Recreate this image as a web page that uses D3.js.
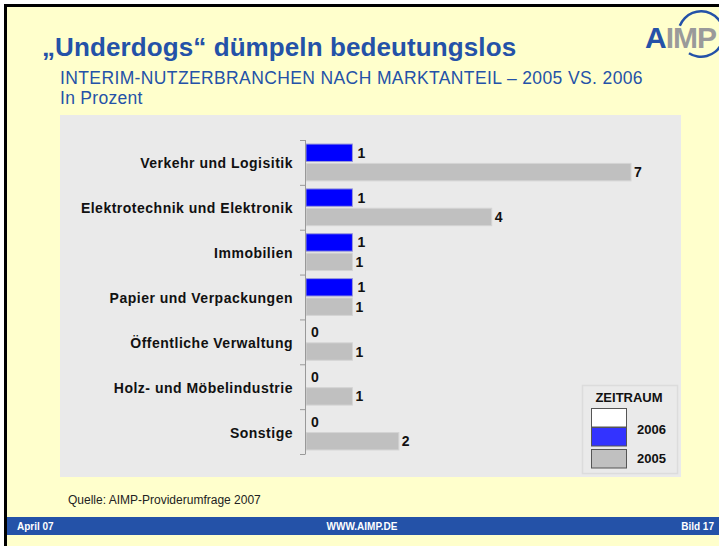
<!DOCTYPE html>
<html>
<head>
<meta charset="utf-8">
<script src="https://cdn.jsdelivr.net/npm/d3@7"></script>
<style>
  body { margin: 0; background: #fff; }
  svg { display: block; font-family: "Liberation Sans", Arial, sans-serif; }
</style>
</head>
<body>
<svg id="chart" width="719" height="546"></svg>
<script>
// data
let categories = ['Verkehr und Logisitik', 'Elektrotechnik und Elektronik', 'Immobilien',
    'Papier und Verpackungen', 'Öffentliche Verwaltung', 'Holz- und Möbelindustrie', 'Sonstige']
let values2006 = [1, 1, 1, 1, 0, 0, 0]
let values2005 = [7, 4, 1, 1, 1, 1, 2]
let seriesNames = ['2006', '2005']
let legendItems = [
    { label: '', color: '#ffffff' },
    { label: '2006', color: '#3333ff' },
    { label: '2005', color: '#c0c0c0' }
]

let width = 719
let height = 546
let blue = '#2452a8'

let svg = d3.select('#chart')

// slide background + frame
svg.append('rect').attr('width', width).attr('height', height).attr('fill', '#fff')
svg.append('rect')
    .attr('x', 5).attr('y', 5).attr('width', width).attr('height', height)
    .attr('fill', '#ffffcc')
svg.append('path')
    .attr('d', `M5.5,${height} V5.5 H${width}`)
    .attr('fill', 'none').attr('stroke', '#000').attr('stroke-width', 3)

// titles
svg.append('text')
    .attr('x', 42).attr('y', 56)
    .attr('fill', blue).attr('font-size', 26).attr('font-weight', 'bold').attr('letter-spacing', 0.1)
    .text('„Underdogs“ dümpeln bedeutungslos')

svg.append('text')
    .attr('x', 60).attr('y', 84)
    .attr('fill', blue).attr('font-size', 17.5).attr('letter-spacing', 0.38)
    .text('INTERIM-NUTZERBRANCHEN NACH MARKTANTEIL – 2005 VS. 2006')

svg.append('text')
    .attr('x', 60).attr('y', 104)
    .attr('fill', blue).attr('font-size', 17.5).attr('letter-spacing', 0.3)
    .text('In Prozent')

// logo
let logo = svg.append('g')
logo.append('path')
    .attr('transform', 'translate(701,34)')
    .attr('d', d3.arc().innerRadius(21.5).outerRadius(24).startAngle(-1.2).endAngle(3.7)())
    .attr('fill', blue)
let logoText = logo.append('text')
    .attr('x', 645).attr('y', 48)
    .attr('font-size', 30).attr('font-weight', 'bold').attr('letter-spacing', -1)
logoText.append('tspan').attr('fill', blue).text('A')
logoText.append('tspan').attr('fill', '#9a9a9a').text('IMP')

// plot area
svg.append('rect')
    .attr('x', 60).attr('y', 115).attr('width', 621).attr('height', 362)
    .attr('fill', '#eaeaea')

let margin = { top: 140, bottom: 454, left: 306 }

let y0 = d3.scaleBand()
    .domain(categories)
    .range([margin.top, margin.bottom])
    .paddingInner(0.18)
    .paddingOuter(0.09)

let y1 = d3.scaleBand()
    .domain(seriesNames)
    .range([0, y0.bandwidth()])
    .paddingInner(0.1)

let xScale = d3.scaleLinear()
    .domain([0, 7])
    .range([margin.left, 631])

let colors = { '2006': '#0000ff', '2005': '#c0c0c0' }
let strokes = { '2006': '#9a9ad8', '2005': '#d4d4d4' }

let rows = categories.map((c, i) => ({ name: c, '2006': values2006[i], '2005': values2005[i] }))

let groups = svg.append('g')
    .selectAll('g')
    .data(rows)
    .join('g')
    .attr('transform', d => `translate(0,${y0(d.name)})`)

groups.selectAll('rect')
    .data(d => seriesNames.map(s => ({ key: s, value: d[s] })))
    .join('rect')
    .attr('x', xScale(0))
    .attr('y', d => y1(d.key))
    .attr('width', d => xScale(d.value) - xScale(0))
    .attr('height', y1.bandwidth())
    .attr('fill', d => colors[d.key])
    .attr('stroke', d => d.value > 0 ? strokes[d.key] : 'none')
    .attr('stroke-width', 1)

groups.selectAll('text')
    .data(d => seriesNames.map(s => ({ key: s, value: d[s] })))
    .join('text')
    .attr('x', d => xScale(d.value) + (d.key == '2006' ? 5 : 3))
    .attr('y', d => y1(d.key) + y1.bandwidth() / 2 + 5)
    .attr('font-size', 14).attr('font-weight', 'bold').attr('fill', '#111')
    .text(d => d.value)

// category axis, ticks between categories
let step = y0.step()
let axis = svg.append('g').attr('stroke', '#999').attr('stroke-width', 1)
axis.append('line')
    .attr('x1', margin.left - 0.5).attr('x2', margin.left - 0.5)
    .attr('y1', margin.top).attr('y2', margin.bottom)
axis.selectAll('.tick')
    .data(d3.range(categories.length + 1))
    .join('line')
    .attr('x1', margin.left - 6).attr('x2', margin.left - 0.5)
    .attr('y1', i => margin.top + i * step + 0.5)
    .attr('y2', i => margin.top + i * step + 0.5)

svg.append('g')
    .selectAll('text')
    .data(categories)
    .join('text')
    .attr('x', 293)
    .attr('y', d => y0(d) + y0.bandwidth() / 2 + 6)
    .attr('text-anchor', 'end')
    .attr('font-size', 14).attr('font-weight', 'bold').attr('letter-spacing', 0.5).attr('fill', '#111')
    .text(d => d)

// legend
let legend = svg.append('g')
legend.append('rect')
    .attr('x', 582.5).attr('y', 385.5).attr('width', 95).attr('height', 88)
    .attr('fill', '#eaeaea').attr('stroke', '#dcdcdc').attr('stroke-width', 1.5)
legend.append('text')
    .attr('x', 629).attr('y', 402)
    .attr('text-anchor', 'middle')
    .attr('font-size', 13).attr('font-weight', 'bold').attr('fill', '#111')
    .text('ZEITRAUM')

let swatchY = [408, 427, 449]
legend.selectAll('.swatch')
    .data(legendItems)
    .join('rect')
    .attr('x', 591.5)
    .attr('y', (d, i) => swatchY[i] + 0.5)
    .attr('width', 35).attr('height', 18.5)
    .attr('fill', d => d.color)
    .attr('stroke', '#555').attr('stroke-width', 1)

legend.selectAll('.lab')
    .data(legendItems.slice(1))
    .join('text')
    .attr('x', 637)
    .attr('y', (d, i) => [434, 463][i])
    .attr('font-size', 13).attr('font-weight', 'bold').attr('fill', '#111')
    .text(d => d.label)

// source + footer
svg.append('text')
    .attr('x', 68).attr('y', 504)
    .attr('font-size', 12).attr('fill', '#222')
    .text('Quelle: AIMP-Providerumfrage 2007')

svg.append('rect')
    .attr('x', 5).attr('y', 517).attr('width', width).attr('height', 18)
    .attr('fill', blue)
svg.append('path')
    .attr('d', `M5.5,517 V535`)
    .attr('stroke', '#000').attr('stroke-width', 3)

let footer = svg.append('g')
    .attr('fill', '#fff').attr('font-size', 10).attr('font-weight', 'bold')
footer.append('text').attr('x', 17).attr('y', 530).text('April 07')
footer.append('text').attr('x', 362).attr('y', 530).attr('text-anchor', 'middle').text('WWW.AIMP.DE')
footer.append('text').attr('x', 714).attr('y', 530).attr('text-anchor', 'end').text('Bild 17')
</script>
</body>
</html>
